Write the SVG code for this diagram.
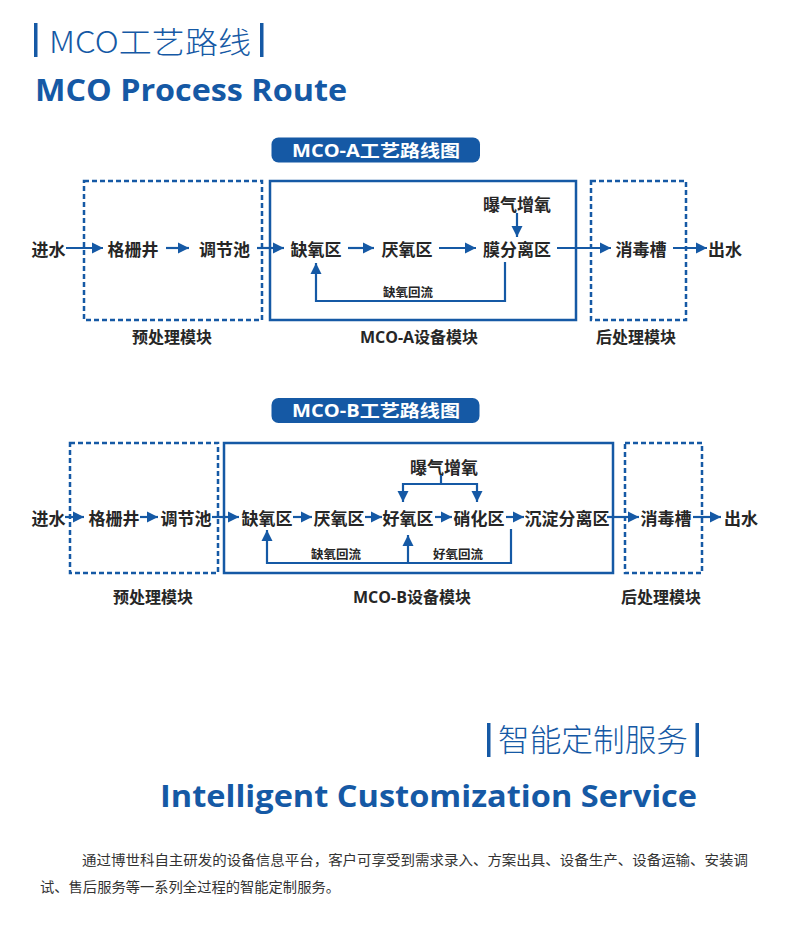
<svg xmlns="http://www.w3.org/2000/svg" width="790" height="927" viewBox="0 0 790 927">
<style>
.bg{fill:#ffffff}
.blue{fill:#1559a5}
.h1{font-family:"Noto Sans CJK SC","Noto Sans",sans-serif;font-size:30px;font-weight:300;fill:#1559a5}
.h2{font-family:"Open Sans","Liberation Sans",sans-serif;font-size:30px;font-weight:700;fill:#1559a5}
.pill{fill:#1559a5}
.pt{font-family:"Open Sans","Noto Sans CJK SC",sans-serif;font-size:17px;font-weight:700;fill:#ffffff;text-anchor:middle}
.n{font-family:"Noto Sans CJK SC","Noto Sans",sans-serif;font-size:17px;font-weight:700;fill:#262626;text-anchor:middle;dominant-baseline:central}
.s{font-family:"Noto Sans CJK SC","Noto Sans",sans-serif;font-size:12.5px;font-weight:700;fill:#262626;text-anchor:middle;dominant-baseline:central}
.m{font-family:"Open Sans","Noto Sans CJK SC",sans-serif;font-size:16px;font-weight:700;fill:#262626;text-anchor:middle;dominant-baseline:central}
.dash{fill:none;stroke:#1559a5;stroke-width:2.5;stroke-dasharray:5 3}
.solid{fill:none;stroke:#1559a5;stroke-width:2.5}
.c{fill:none;stroke:#1559a5;stroke-width:2.2}
.p{font-family:"Noto Sans CJK SC","Noto Sans",sans-serif;font-size:14px;fill:#333333}
</style>
<defs>
<marker id="ah" viewBox="0 0 10 10" refX="10" refY="5" markerWidth="5.2" markerHeight="5.2" orient="auto" markerUnits="strokeWidth">
<path d="M0,0 L10,5 L0,10 Z" fill="#1559a5"/>
</marker>
</defs>
<rect class="bg" x="0" y="0" width="790" height="927"/>

<g id="title-top">
<rect class="blue" x="34" y="23" width="3.5" height="34"/>
<text class="h1" x="49" y="53" textLength="202" lengthAdjust="spacingAndGlyphs">MCO工艺路线</text>
<rect class="blue" x="260" y="23" width="3.5" height="34"/>
<text class="h2" x="35" y="101" textLength="312" lengthAdjust="spacingAndGlyphs">MCO Process Route</text>
</g>

<!-- Section A -->
<g id="a-pill">
<rect class="pill" x="271.5" y="137.5" width="208.5" height="25" rx="7"/>
<text class="pt" x="376" y="156.5" textLength="168" lengthAdjust="spacingAndGlyphs">MCO-A工艺路线图</text>
</g>
<g id="a-pre"><rect class="dash" x="84" y="181" width="178" height="139"/><text class="m" x="172" y="337">预处理模块</text></g>
<g id="a-main"><rect class="solid" x="270" y="181" width="306" height="139"/><text class="m" x="419" y="337">MCO-A设备模块</text></g>
<g id="a-post"><rect class="dash" x="591" y="181" width="95" height="139"/><text class="m" x="636" y="337">后处理模块</text></g>

<g id="a-n1"><text class="n" x="48.5" y="248">进水</text></g>
<g id="a-n2"><text class="n" x="133" y="248">格栅井</text></g>
<g id="a-n3"><text class="n" x="224.5" y="248">调节池</text></g>
<g id="a-n4"><text class="n" x="316" y="248">缺氧区</text></g>
<g id="a-n5"><text class="n" x="407" y="248">厌氧区</text></g>
<g id="a-n6"><text class="n" x="517" y="248">膜分离区</text></g>
<g id="a-n7"><text class="n" x="641" y="248">消毒槽</text></g>
<g id="a-n8"><text class="n" x="725" y="248">出水</text></g>
<g id="a-n9"><text class="n" x="517" y="203">曝气增氧</text></g>

<g id="a-connectors">
<line class="c" x1="66" y1="248" x2="103" y2="248" marker-end="url(#ah)"/>
<line class="c" x1="166" y1="248" x2="189" y2="248" marker-end="url(#ah)"/>
<line class="c" x1="257" y1="248" x2="284" y2="248" marker-end="url(#ah)"/>
<line class="c" x1="348" y1="248" x2="374" y2="248" marker-end="url(#ah)"/>
<line class="c" x1="439" y1="248" x2="476" y2="248" marker-end="url(#ah)"/>
<line class="c" x1="557" y1="248" x2="611" y2="248" marker-end="url(#ah)"/>
<line class="c" x1="673" y1="248" x2="707" y2="248" marker-end="url(#ah)"/>
<line class="c" x1="517" y1="213" x2="517" y2="237" marker-end="url(#ah)"/>
<path class="c" d="M505,262 V301 H316 V263" marker-end="url(#ah)"/>
<text class="s" x="408" y="291">缺氧回流</text>
</g>

<!-- Section B -->
<g id="b-pill">
<rect class="pill" x="271.5" y="398" width="208" height="25" rx="7"/>
<text class="pt" x="376" y="417" textLength="168" lengthAdjust="spacingAndGlyphs">MCO-B工艺路线图</text>
</g>
<g id="b-pre"><rect class="dash" x="70" y="443" width="148" height="130"/><text class="m" x="153" y="597">预处理模块</text></g>
<g id="b-main"><rect class="solid" x="224" y="443" width="389" height="130"/><text class="m" x="412" y="597">MCO-B设备模块</text></g>
<g id="b-post"><rect class="dash" x="625" y="443" width="77" height="130"/><text class="m" x="661" y="597">后处理模块</text></g>

<g id="b-n1"><text class="n" x="48.5" y="517">进水</text></g>
<g id="b-n2"><text class="n" x="114" y="517">格栅井</text></g>
<g id="b-n3"><text class="n" x="186" y="517">调节池</text></g>
<g id="b-n4"><text class="n" x="267" y="517">缺氧区</text></g>
<g id="b-n5"><text class="n" x="339" y="517">厌氧区</text></g>
<g id="b-n6"><text class="n" x="408" y="517">好氧区</text></g>
<g id="b-n7"><text class="n" x="479" y="517">硝化区</text></g>
<g id="b-n8"><text class="n" x="567" y="517">沉淀分离区</text></g>
<g id="b-n9"><text class="n" x="666" y="517">消毒槽</text></g>
<g id="b-n10"><text class="n" x="741" y="517">出水</text></g>
<g id="b-n11"><text class="n" x="444" y="466">曝气增氧</text></g>

<g id="b-connectors">
<line class="c" x1="65" y1="517" x2="84" y2="517" marker-end="url(#ah)"/>
<line class="c" x1="140" y1="517" x2="158" y2="517" marker-end="url(#ah)"/>
<line class="c" x1="212" y1="517" x2="239" y2="517" marker-end="url(#ah)"/>
<line class="c" x1="293" y1="517" x2="312" y2="517" marker-end="url(#ah)"/>
<line class="c" x1="365" y1="517" x2="382" y2="517" marker-end="url(#ah)"/>
<line class="c" x1="435" y1="517" x2="452" y2="517" marker-end="url(#ah)"/>
<line class="c" x1="506" y1="517" x2="524" y2="517" marker-end="url(#ah)"/>
<line class="c" x1="607" y1="517" x2="639" y2="517" marker-end="url(#ah)"/>
<line class="c" x1="693" y1="517" x2="721" y2="517" marker-end="url(#ah)"/>
<path class="c" d="M441,475 V484"/>
<path class="c" d="M403,484 H477"/>
<line class="c" x1="403" y1="483" x2="403" y2="502" marker-end="url(#ah)"/>
<line class="c" x1="477" y1="483" x2="477" y2="502" marker-end="url(#ah)"/>
<path class="c" d="M511,529 V563 H267 V530" marker-end="url(#ah)"/>
<line class="c" x1="408" y1="563" x2="408" y2="535" marker-end="url(#ah)"/>
<text class="s" x="336" y="553">缺氧回流</text>
<text class="s" x="458" y="553">好氧回流</text>
</g>

<g id="title-bottom">
<rect class="blue" x="487" y="723" width="3.5" height="34"/>
<text class="h1" x="498" y="751" textLength="190" lengthAdjust="spacingAndGlyphs" style="font-size:31px">智能定制服务</text>
<rect class="blue" x="695.5" y="723" width="3.5" height="34"/>
<text class="h2" x="160" y="807" textLength="537" lengthAdjust="spacingAndGlyphs">Intelligent Customization Service</text>
</g>

<g id="paragraph">
<text class="p" x="82" y="865" textLength="666" lengthAdjust="spacingAndGlyphs">通过博世科自主研发的设备信息平台，客户可享受到需求录入、方案出具、设备生产、设备运输、安装调</text>
<text class="p" x="40" y="892" textLength="300" lengthAdjust="spacingAndGlyphs">试、售后服务等一系列全过程的智能定制服务。</text>
</g>
</svg>
